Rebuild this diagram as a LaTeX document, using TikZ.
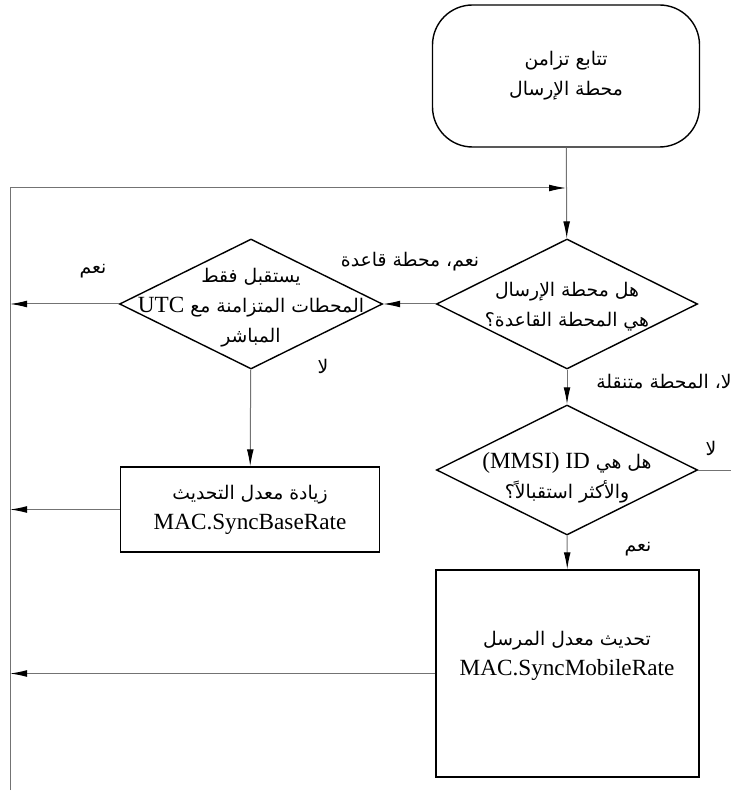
\documentclass[tikz,border=0pt]{standalone}
\usepackage{fontspec}
\setmainfont{Liberation Serif}
\newfontfamily\arabicfont[Script=Arabic,Scale=0.81]{DejaVu Sans}
\TeXXeTstate=1
\usetikzlibrary{shapes.geometric,arrows.meta}
\newcommand\ar[1]{{\arabicfont\beginR #1\endR}}
\newcommand\ltn[1]{\beginL{\rmfamily #1}\endL}
\tikzset{
  every node/.style={font=\fontsize{11.6}{15}\selectfont},
  conn/.style={draw=black!55, line width=0.5pt},
  tip/.style={-{Latex[length=8.5pt,width=3.4pt,color=black]}},
  startbox/.style={draw, line width=0.7pt, rounded corners=20pt,
    minimum width=133.5pt, minimum height=71pt, align=center},
  decision/.style={draw, diamond, line width=0.7pt, inner sep=0pt},
  process/.style={draw, rectangle, line width=0.7pt, align=center},
  txt/.style={align=center, inner sep=0pt}
}
\begin{document}
\begin{tikzpicture}[x=0.5pt,y=-0.5pt]
  \useasboundingbox (0,0) rectangle (731,801);
  %LOOP
  \coordinate (lt) at (10,188);
  \coordinate (lb) at (10,790);
  \coordinate (rgt) at (731,0);
  %START
  \node[startbox] (start) at (566,76) {\ar{تتابع تزامن}\\\ar{محطة الإرسال}};
  %DECISIONS
  \node[decision, minimum width=130.5pt, minimum height=65pt] (d1) at (567,304) {};
  \node[txt] at (567,307) {\ar{هل محطة الإرسال}\\\ar{هي المحطة القاعدة؟}};
  \node[decision, minimum width=131.5pt, minimum height=65pt] (d2) at (251,304) {};
  \node[txt] at (251,308) {\ar{يستقبل فقط}\\\ar{المحطات المتزامنة مع \ltn{UTC}}\\\ar{المباشر}};
  \node[decision, minimum width=130.5pt, minimum height=65pt] (d3) at (567,470) {};
  \node[txt] at (567,478) {\ar{هل هي \ltn{(MMSI) ID}}\\\ar{والأكثر استقبالاً؟}};
  %PROCESSES
  \node[process, minimum width=129.5pt, minimum height=42.5pt] (b1) at (250,509.5)
    {\ar{زيادة معدل التحديث}\\MAC.SyncBaseRate};
  \node[process, minimum width=131.5pt, minimum height=103.5pt] (b2) at (567.5,673.5) {};
  \node[txt] at (567,656) {\ar{تحديث معدل المرسل}\\MAC.SyncMobileRate};
  %CONNECTORS
  \draw[conn] (lb) -- (lt);
  \draw[conn,tip] (lt) -- (lt -| start.south);
  \draw[conn,tip] (start) -- (d1);
  \draw[conn,tip] (d1) -- (d2);
  \draw[conn,tip] (d2) -- (d2.west -| lt);
  \draw[conn,tip] (d2) -- (b1);
  \draw[conn,tip] (b1) -- (b1.west -| lt);
  \draw[conn,tip] (d1) -- (d3);
  \draw[conn] (d3.east) -- (d3.east -| rgt);
  \draw[conn,tip] (d3) -- (b2);
  \draw[conn,tip] (b2.west) -- (b2.west -| lt);
  %LABELS
  \node (l1) at (410,262) {\ar{نعم، محطة قاعدة}};
  \node (l2) at (93,271) {\ar{نعم}};
  \node (l3) at (323,366) {\ar{لا}};
  \node (l4) at (664,382) {\ar{لا، المحطة متنقلة}};
  \node (l5) at (711,448) {\ar{لا}};
  \node (l6) at (638,549) {\ar{نعم}};
\end{tikzpicture}
\end{document}
